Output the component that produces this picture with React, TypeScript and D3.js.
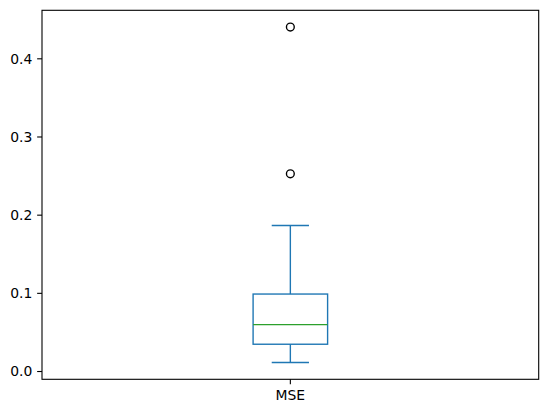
import { scaleLinear } from "d3";

const width = 547;
const height = 413;
const margin = { top: 10.3, right: 8.3, bottom: 33.7, left: 42 };

// box statistics
const categories = ["MSE"];
const whiskerLow = [0.0115];
const q1 = [0.0349];
const median = [0.06];
const q3 = [0.0991];
const whiskerHigh = [0.1868];
const outliers = [[0.2529, 0.4406]];
const yTicks = [0.0, 0.1, 0.2, 0.3, 0.4];

const boxColor = "#1f77b4";
const medianColor = "#2ca02c";
const lw = 1.39;
const tickLen = 4.86;
const pad = 4.86;
const fontSize = 13.9;

const App = () => {
  const innerWidth = width - margin.left - margin.right;
  const innerHeight = height - margin.top - margin.bottom;

  const allVals = [...whiskerLow, ...whiskerHigh, ...outliers.flat()];
  const lo = Math.min(...allVals);
  const hi = Math.max(...allVals);
  const m = (hi - lo) * 0.05;

  const yScale = scaleLinear().domain([lo - m, hi + m]).range([innerHeight, 0]);
  const xScale = scaleLinear().domain([0.5, categories.length + 0.5]).range([0, innerWidth]);

  const boxW = 0.15;

  return (
    <svg
      width={width}
      height={height}
      style={{ position: "absolute", left: 0, top: 0, background: "white" }}
      fontFamily="DejaVu Sans"
      fontSize={fontSize}
    >
      <g transform={`translate(${margin.left},${margin.top})`}>
        {categories.map((c, i) => {
          const pos = i + 1;
          const cx = xScale(pos);
          const x0 = xScale(pos - boxW / 2);
          const x1 = xScale(pos + boxW / 2);
          const c0 = xScale(pos - boxW / 4);
          const c1 = xScale(pos + boxW / 4);
          return (
            <g key={c}>
              <rect
                x={x0}
                y={yScale(q3[i])}
                width={x1 - x0}
                height={yScale(q1[i]) - yScale(q3[i])}
                fill="none"
                stroke={boxColor}
                strokeWidth={lw}
              />
              <line x1={cx} x2={cx} y1={yScale(q3[i])} y2={yScale(whiskerHigh[i])} stroke={boxColor} strokeWidth={lw} />
              <line x1={cx} x2={cx} y1={yScale(q1[i])} y2={yScale(whiskerLow[i])} stroke={boxColor} strokeWidth={lw} />
              <line x1={c0} x2={c1} y1={yScale(whiskerHigh[i])} y2={yScale(whiskerHigh[i])} stroke={boxColor} strokeWidth={lw} />
              <line x1={c0} x2={c1} y1={yScale(whiskerLow[i])} y2={yScale(whiskerLow[i])} stroke={boxColor} strokeWidth={lw} />
              <line x1={x0} x2={x1} y1={yScale(median[i])} y2={yScale(median[i])} stroke={medianColor} strokeWidth={lw} />
              {outliers[i].map((v, j) => (
                <circle key={j} cx={cx} cy={yScale(v)} r={3.9} fill="none" stroke="black" strokeWidth={lw} />
              ))}
              <line x1={cx} x2={cx} y1={innerHeight} y2={innerHeight + tickLen} stroke="black" strokeWidth={1.1} />
              <text x={cx} y={innerHeight + tickLen + pad} dy="0.76em" textAnchor="middle" fill="black">
                {c}
              </text>
            </g>
          );
        })}
        {yTicks.map((t) => (
          <g key={t} transform={`translate(0,${yScale(t)})`}>
            <line x1={-tickLen} x2={0} stroke="black" strokeWidth={1.1} />
            <text x={-tickLen - pad} dy="0.35em" textAnchor="end" fill="black">
              {t.toFixed(1)}
            </text>
          </g>
        ))}
        <rect x={0} y={0} width={innerWidth} height={innerHeight} fill="none" stroke="black" strokeWidth={1.1} />
      </g>
    </svg>
  );
};

export default App;
